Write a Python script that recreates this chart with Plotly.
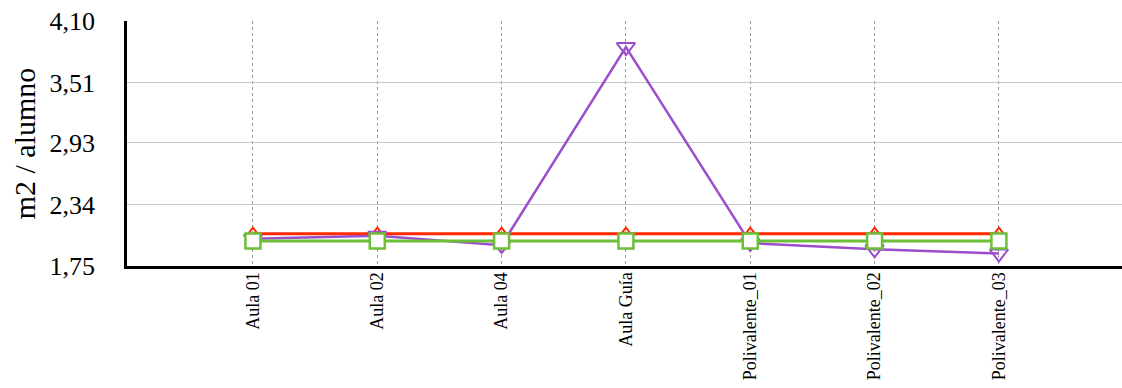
import plotly.graph_objects as go

categorias = ["Aula 01", "Aula 02", "Aula 04", "Aula Guía",
              "Polivalente_01", "Polivalente_02", "Polivalente_03"]
serie_roja = [2.06, 2.06, 2.06, 2.06, 2.06, 2.06, 2.06]
serie_morada = [2.01, 2.04, 1.95, 3.85, 1.97, 1.91, 1.87]
serie_verde = [1.99, 1.99, 1.99, 1.99, 1.99, 1.99, 1.99]
ticks_y = [1.75, 2.34, 2.93, 3.51, 4.10]
etiquetas_y = ["1,75", "2,34", "2,93", "3,51", "4,10"]

x = list(range(len(categorias)))
fuente = "Liberation Serif"

fig = go.Figure()
fig.add_trace(go.Scatter(
    x=x, y=serie_roja, mode="lines+markers", name="rojo",
    line=dict(color="#ff2a00", width=3),
    marker=dict(symbol="triangle-up-open", size=12, color="#ff2a00",
                line=dict(width=2)),
))
fig.add_trace(go.Scatter(
    x=x, y=serie_morada, mode="lines+markers", name="morado",
    line=dict(color="#9b4dca", width=2.5),
    marker=dict(symbol="triangle-down-open", size=16, color="#9b4dca",
                line=dict(width=2)),
))
fig.add_trace(go.Scatter(
    x=x, y=serie_verde, mode="lines+markers", name="verde",
    line=dict(color="#6dbf3a", width=3),
    marker=dict(symbol="square", size=15, color="white",
                line=dict(color="#6dbf3a", width=2.5)),
))

fig.update_layout(
    width=1122, height=388,
    margin=dict(l=127, r=0, t=21, b=122),
    paper_bgcolor="white", plot_bgcolor="white",
    showlegend=False,
    font=dict(family=fuente, color="black"),
)
fig.update_xaxes(
    range=[-1.013, 6.99], tickmode="array", tickvals=x, ticktext=categorias,
    tickangle=-90, tickfont=dict(size=18, family=fuente),
    showgrid=True, gridcolor="#9a9a9a", griddash="dot", gridwidth=1,
    showline=True, linecolor="black", linewidth=3,
    zeroline=False, ticks="", ticklabelstandoff=-4,
)
fig.update_yaxes(
    range=[1.75, 4.10], tickmode="array", tickvals=ticks_y, ticktext=etiquetas_y,
    tickfont=dict(size=26, family=fuente),
    showgrid=True, gridcolor="#c8c8c8", gridwidth=1,
    showline=True, linecolor="black", linewidth=2.5,
    zeroline=False, ticks="", ticklabelstandoff=24,
    title=dict(text="m2 / alumno", font=dict(size=30, family=fuente), standoff=6),
)

fig.write_html("out.html")
